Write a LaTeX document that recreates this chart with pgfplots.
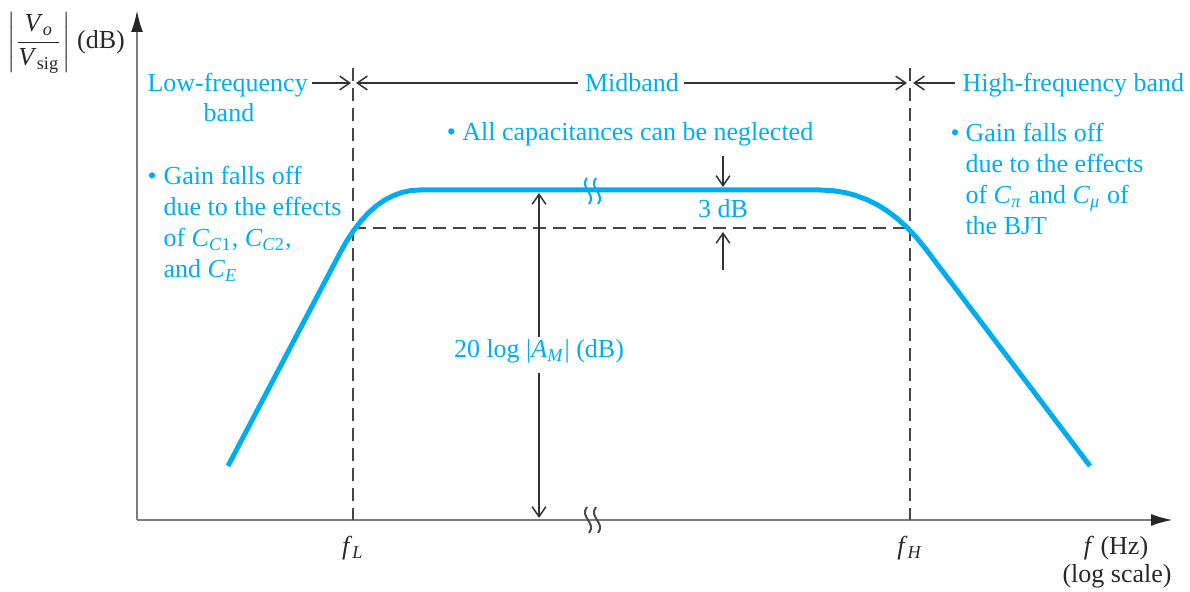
\documentclass[border=0pt]{standalone}
\usepackage{pgfplots}
\pgfplotsset{compat=1.18}
\usepackage{amsmath}
\usepackage{fontspec}
\setmainfont{Liberation Serif}
\usetikzlibrary{arrows.meta}
\definecolor{cy}{RGB}{0,174,239}
\definecolor{axc}{RGB}{125,125,125}
\definecolor{dk}{RGB}{70,70,70}
\definecolor{txt}{RGB}{40,40,40}
\newcommand{\iv}[1]{\textit{#1}}
\begin{document}
\begin{tikzpicture}[
 every node/.style={font=\fontsize{10.4}{12.4}\selectfont, inner sep=0pt},
 ann/.style={-{Straight Barb[length=4pt,width=5.5pt]}, line width=0.6pt, black!80},
 dsh/.style={dk, line width=0.6pt, dash pattern=on 5.2pt off 2.8pt},
]
\begin{axis}[
 scale only axis, width=476pt, height=236.8pt,
 xmin=0, xmax=1190, ymin=0, ymax=592, hide axis, clip=false,
]
\path (axis cs:0,0) rectangle (axis cs:1190,592);
% axes
\draw[axc, line width=1pt, -{Latex[length=8.8pt,width=4.8pt,color=black!85]}] (axis cs:137,72) -- (axis cs:137,582);
\draw[axc, line width=1pt, -{Latex[length=8.8pt,width=4.8pt,color=black!85]}] (axis cs:137,72) -- (axis cs:1173,72);
% dashed guides
\draw[dsh] (axis cs:353,524) -- (axis cs:353,72);
\draw[dsh] (axis cs:910,524) -- (axis cs:910,72);
\draw[dsh] (axis cs:353,364) -- (axis cs:910,364);
% response curve
\addplot[cy, line width=2pt, line join=round] coordinates {
 (228,126) (340,339) (346.7,351) (353.8,361.7) (361.1,371.1) (368.6,379.3)
 (376.5,386.25) (384.6,391.9) (393.1,396.3) (401.8,399.5) (410.7,401.4) (420,402)
 (820,402) (832,401.4) (843.7,399.7) (855,396.8) (866.1,392.7) (876.8,387.5)
 (887.1,381.1) (897,373.6) (906.7,364.9) (916,355) (925,344) (1090,126)
};
% break marks
\draw[cy, line width=0.8pt] (axis cs:587,414) .. controls (axis cs:579,404) and (axis cs:597,398) .. (axis cs:589,388);
\draw[cy, line width=0.8pt] (axis cs:596,414) .. controls (axis cs:588,404) and (axis cs:606,398) .. (axis cs:598,388);
\draw[black!70, line width=0.8pt] (axis cs:587,85) .. controls (axis cs:579,75) and (axis cs:597,69) .. (axis cs:589,59);
\draw[black!70, line width=0.8pt] (axis cs:596,85) .. controls (axis cs:588,75) and (axis cs:606,69) .. (axis cs:598,59);
% top band labels
\node[cy, anchor=base west] at (axis cs:147,500) {Low-frequency};
\node[cy, anchor=base] at (axis cs:229,470) {band};
\draw[ann] (axis cs:312,509) -- (axis cs:351,509);
\draw[ann] (axis cs:578,509) -- (axis cs:356,509);
\node[cy, anchor=base] at (axis cs:632,500) {Midband};
\draw[ann] (axis cs:684,509) -- (axis cs:907,509);
\draw[ann] (axis cs:955,509) -- (axis cs:913,509);
\node[cy, anchor=base west] at (axis cs:962,500) {High-frequency band};
% midband note
\node[cy, anchor=base] at (axis cs:630,451) {\textbullet\ All capacitances can be neglected};
% left note
\node[cy, anchor=base west] at (axis cs:147,407) {\textbullet};
\node[cy, anchor=base west] at (axis cs:163,407) {Gain falls off};
\node[cy, anchor=base west] at (axis cs:163,376) {due to the effects};
\node[cy, anchor=base west] at (axis cs:163,345) {of \iv{C}\textsubscript{\iv{C}1}, \iv{C}\textsubscript{\iv{C}2},};
\node[cy, anchor=base west] at (axis cs:163,314) {and \iv{C}\textsubscript{\iv{E}}};
% right note
\node[cy, anchor=base west] at (axis cs:950,450) {\textbullet};
\node[cy, anchor=base west] at (axis cs:965,450) {Gain falls off};
\node[cy, anchor=base west] at (axis cs:965,419) {due to the effects};
\node[cy, anchor=base west] at (axis cs:965,388) {of \iv{C}\textsubscript{\iv{π}} and \iv{C}\textsubscript{\iv{μ}} of};
\node[cy, anchor=base west] at (axis cs:965,357) {the BJT};
% 3 dB
\draw[ann] (axis cs:723,436) -- (axis cs:723,405);
\draw[ann] (axis cs:723,322) -- (axis cs:723,360);
\node[cy, anchor=base] at (axis cs:723,374) {3 dB};
% midband gain arrow
\draw[ann] (axis cs:539,255) -- (axis cs:539,399);
\draw[ann] (axis cs:539,219) -- (axis cs:539,74);
\node[cy, anchor=base] at (axis cs:539,234) {20 log |\iv{A}\textsubscript{\iv{M}}| (dB)};
% axis labels
\node[txt, anchor=base] at (axis cs:353,37) {\iv{f}\textsubscript{\iv{L}}};
\node[txt, anchor=base] at (axis cs:910,37) {\iv{f}\textsubscript{\iv{H}}};
\node[txt, anchor=base] at (axis cs:1116,37) {\iv{f} (Hz)};
\node[txt, anchor=base] at (axis cs:1117,9) {(log scale)};
\node[txt] at (axis cs:66,549) {$\left|\dfrac{\text{\iv{V}}_{\text{\iv{o}}}}{\text{\iv{V}}_{\text{sig}}}\right|$ (dB)};
\end{axis}
\end{tikzpicture}
\end{document}
